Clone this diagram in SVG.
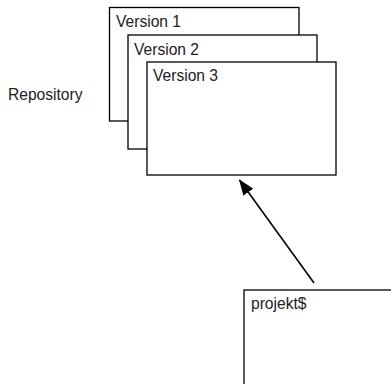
<svg xmlns="http://www.w3.org/2000/svg" width="391" height="384" viewBox="0 0 391 384">
<defs>
<style>
.box{fill:#fff;stroke:#000;stroke-width:1.3}
.t{font-family:"Liberation Sans",Arial,sans-serif;font-size:15.6px;fill:#222}
</style>
<marker id="ah" markerWidth="16" markerHeight="12" refX="15" refY="6" orient="auto" markerUnits="userSpaceOnUse">
<path d="M0,0 L16,6 L0,12 Z" fill="#000"/>
</marker>
</defs>
<rect width="391" height="384" fill="#fff"/>
<g id="repository-label"><text class="t" x="8" y="100">Repository</text></g>
<g id="version1"><rect class="box" x="109.5" y="7.5" width="189.5" height="113.5"/><text class="t" x="116" y="27">Version 1</text></g>
<g id="version2"><rect class="box" x="128" y="35" width="189" height="114"/><text class="t" x="134" y="55">Version 2</text></g>
<g id="version3"><rect class="box" x="147" y="62" width="189" height="113"/><text class="t" x="153" y="81">Version 3</text></g>
<g id="projekt"><rect class="box" x="244" y="290" width="160" height="110"/><text class="t" x="251" y="309">projekt$</text></g>
<g id="connectors">
<line x1="314" y1="283" x2="239.5" y2="180" stroke="#000" stroke-width="1.6" marker-end="url(#ah)"/>
</g>
</svg>
